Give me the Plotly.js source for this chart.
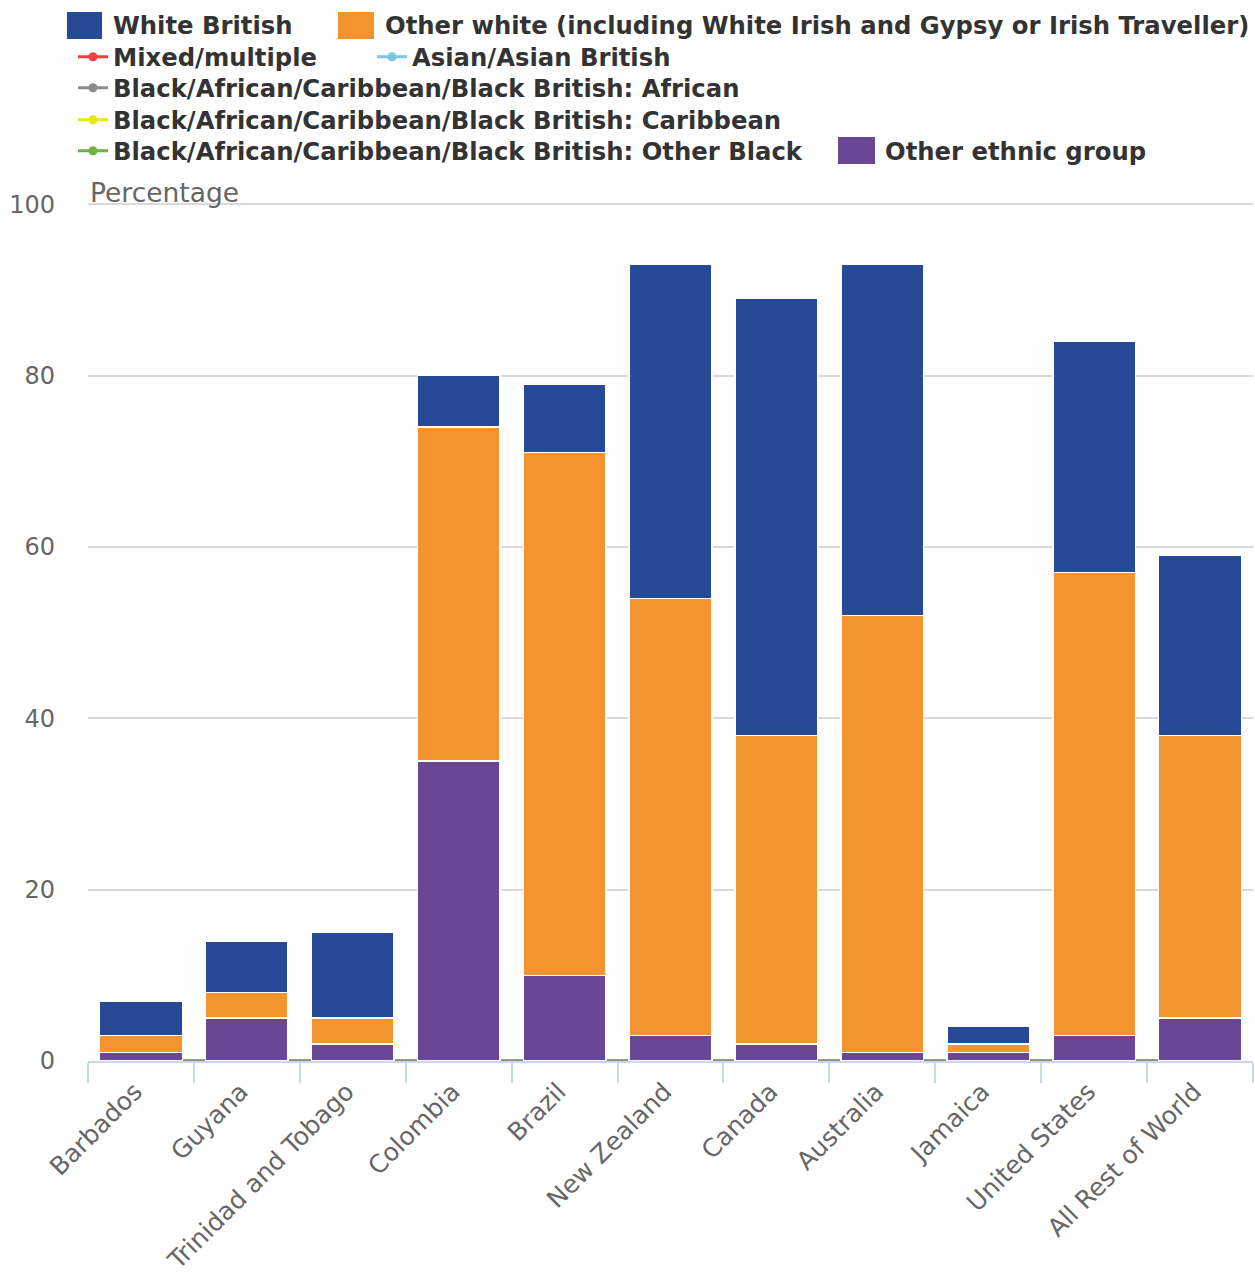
<!DOCTYPE html>
<html>
<head>
<meta charset="utf-8">
<script src="https://cdn.plot.ly/plotly-3.0.1.min.js"></script>
<style>html,body{margin:0;padding:0;background:#fff}#chart{width:1255px;height:1274px}</style>
</head>
<body>
<div id="chart"></div>
<script>
const categories = ["Barbados","Guyana","Trinidad and Tobago","Colombia","Brazil","New Zealand","Canada","Australia","Jamaica","United States","All Rest of World"];
const whiteBritish = [4,6,10,6,8,39,51,41,2,27,21];
const otherWhite = [2,3,3,39,61,51,36,51,1,54,33];
const otherEthnic = [1,5,2,35,10,3,2,1,1,3,5];
const mixed = [0,0,0,0,0,0,0,0,0,0,0];
const asian = [0,0,0,0,0,0,0,0,0,0,0];
const blackAfrican = [0,0,0,0,0,0,0,0,0,0,0];
const blackCaribbean = [0,0,0,0,0,0,0,0,0,0,0];
const blackOther = [0,0,0,0,0,0,0,0,0,0,0];
const yTicks = [0,20,40,60,80,100];

const W = 1255, H = 1274;
const M = {l:88, r:2, t:202, b:213};
const PW = W - M.l - M.r, PH = H - M.t - M.b;

const colWB = '#274a96', colOW = '#f39430', colOE = '#6a4795';

function lineTrace(name, y, color, legendId){
  return {type:'scatter', mode:'lines+markers', name:name, x:categories, y:y,
    xaxis:'x', yaxis:'y', line:{color:color, width:3}, marker:{color:color, size:9},
    legend:legendId, hoverinfo:'skip'};
}
function barTrace(name, y, color){
  return {type:'bar', name:name, x:categories, y:y, xaxis:'x2', yaxis:'y2', showlegend:false,
    marker:{color:color, line:{color:'#ffffff', width:1.5}}};
}
function swatchTrace(name, color, legendId){
  return {type:'scatter', mode:'markers', name:name, x:[null], y:[null], xaxis:'x', yaxis:'y',
    marker:{symbol:'square', color:color, size:16, line:{width:0}}, legend:legendId, hoverinfo:'skip'};
}
const data = [
  lineTrace("Mixed/multiple", mixed, '#e8413f', 'legend3'),
  lineTrace("Asian/Asian British", asian, '#7cc8e0', 'legend4'),
  lineTrace("Black/African/Caribbean/Black British: Caribbean", blackCaribbean, '#e6e619', 'legend6'),
  lineTrace("Black/African/Caribbean/Black British: Other Black", blackOther, '#6db33f', 'legend7'),
  lineTrace("Black/African/Caribbean/Black British: African", blackAfrican, '#8c8c8c', 'legend5'),
  swatchTrace("White British", colWB, 'legend'),
  swatchTrace("Other white (including White Irish and Gypsy or Irish Traveller)", colOW, 'legend2'),
  swatchTrace("Other ethnic group", colOE, 'legend8'),
  barTrace("Other ethnic group", otherEthnic, colOE),
  barTrace("Other white (including White Irish and Gypsy or Irish Traveller)", otherWhite, colOW),
  barTrace("White British", whiteBritish, colWB)
];

const legendFont = {family:'DejaVu Sans', size:24.3, color:'#333333', weight:'bold'};
function legendAt(textX, rowY){
  return {orientation:'h', xref:'container', yref:'container', x:(textX-40)/W, y:1-rowY/H,
    xanchor:'left', yanchor:'middle', font:legendFont, itemwidth:30, bgcolor:'rgba(0,0,0,0)', borderwidth:0};
}
// big legend swatches (pixel boxes converted to paper coords)
function swatchShape(x0,y0,x1,y1,color){
  return {type:'rect', xref:'paper', yref:'paper', layer:'above',
    x0:(x0-M.l)/PW, x1:(x1-M.l)/PW, y0:(H-M.b-y1)/PH, y1:(H-M.b-y0)/PH,
    fillcolor:color, line:{width:0}};
}
const tickFont = {family:'DejaVu Sans', size:24, color:'#666666'};
const yRange = [0, 100.25];
const layout = {
  width:W, height:H,
  margin:M,
  paper_bgcolor:'#ffffff', plot_bgcolor:'#ffffff',
  barmode:'stack', bargap:0.22,
  showlegend:true,
  legend:legendAt(113,25),
  legend2:legendAt(385,25),
  legend3:legendAt(113,57),
  legend4:legendAt(412,57),
  legend5:legendAt(113,88),
  legend6:legendAt(113,120),
  legend7:legendAt(113,151),
  legend8:legendAt(885,151),
  xaxis:{type:'category', range:[-0.5,10.5], tickangle:-45, tickfont:{family:'DejaVu Sans', size:25, color:'#666666'}, showgrid:false,
    showline:true, linecolor:'#ccd6eb', linewidth:2, ticks:'outside', tickson:'boundaries', ticklen:20, tickcolor:'#ccd6eb', tickwidth:2,
    ticklabelstandoff:4, ticklabelshift:-6, fixedrange:true},
  yaxis:{range:yRange, tickvals:yTicks, tickfont:tickFont, showgrid:true, gridcolor:'#d9d9d9', gridwidth:2,
    zeroline:false, showline:false, ticklabelstandoff:32, fixedrange:true},
  xaxis2:{type:'category', range:[-0.5,10.5], overlaying:'x', visible:false, matches:'x'},
  yaxis2:{range:yRange, overlaying:'y', visible:false},
  shapes:[
    swatchShape(67,12,102,39,colWB),
    swatchShape(338,12,374,39,colOW),
    swatchShape(838,137,875,164,colOE)
  ],
  annotations:[{text:'Percentage', xref:'paper', yref:'paper', x:0, y:1, xanchor:'left', yanchor:'bottom', yshift:-8, xshift:0,
    showarrow:false, font:{family:'DejaVu Sans', size:26.5, color:'#666666'}}]
};
Plotly.newPlot('chart', data, layout, {displayModeBar:false, staticPlot:true});
</script>
</body>
</html>
